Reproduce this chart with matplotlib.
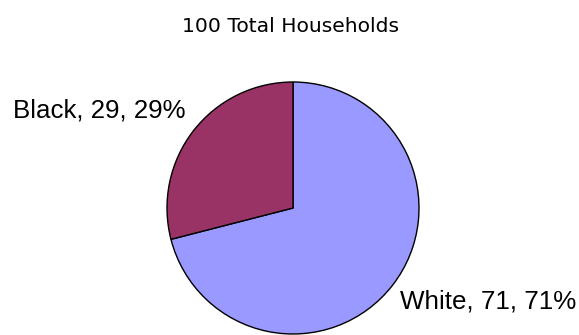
import matplotlib
matplotlib.use("Agg")
import matplotlib.pyplot as plt

categories = ["White", "Black"]
counts = [71, 29]
colors = ["#9999FF", "#993366"]
title = "100 Total Households"

W, H = 579, 335
fig = plt.figure(figsize=(W / 100, H / 100), dpi=100)
cx, cy, r = 293, 208, 126
ax = fig.add_axes([(cx - r) / W, (H - cy - r) / H, 2 * r / W, 2 * r / H])
ax.pie(counts, colors=colors, startangle=90, counterclock=False,
       wedgeprops=dict(edgecolor="black", linewidth=1.0))
ax.set_xlim(-1, 1)
ax.set_ylim(-1, 1)
ax.set_aspect("equal")
ax.axis("off")

total = sum(counts)
lab = [f"{c}, {v}, {round(100 * v / total)}%" for c, v in zip(categories, counts)]
ax.text(0.849, -0.746, lab[0], ha="left", va="center", fontsize=18.7,
        family="Liberation Sans", clip_on=False)
ax.text(-0.857, 0.77, lab[1], ha="right", va="center", fontsize=18.6,
        family="Liberation Sans", clip_on=False)

fig.text(290 / W, 1 - 26 / H, title, ha="center", va="center", fontsize=14.6,
         family="DejaVu Sans")

fig.savefig("out.png", dpi=100)
